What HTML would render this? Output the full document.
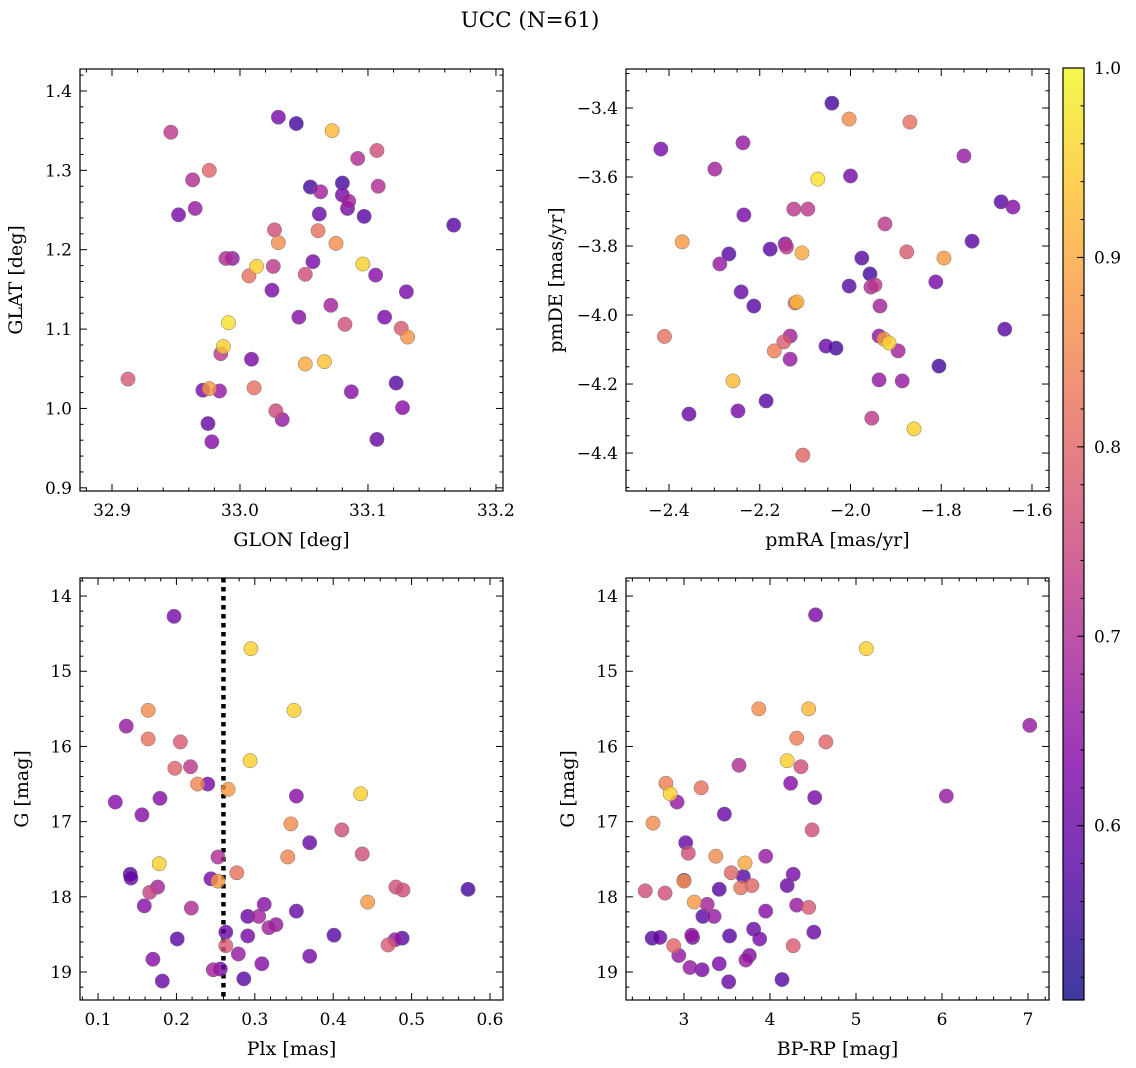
<!DOCTYPE html>
<html><head><meta charset="utf-8"><style>
html,body{margin:0;padding:0;background:#fff;}
svg{display:block;font-family:"DejaVu Serif","Liberation Serif",serif;}
</style></head><body>
<svg id="chart" width="1136" height="1068" viewBox="0 0 1136 1068" xmlns="http://www.w3.org/2000/svg">
<text x="530" y="27" font-size="21.5" text-anchor="middle">UCC (N=61)</text>
</svg>
<script>
// Panel 1: GLON vs GLAT
const p1Glon=[32.9125,32.946,32.952,32.963,32.965,32.976,32.989,32.994,32.991,32.987,32.985,32.971,32.976,32.984,32.975,32.978,33.013,33.007,33.009,33.011,33.030,33.044,33.027,33.030,33.026,33.025,33.028,33.033,33.046,33.051,33.055,33.063,33.062,33.057,33.061,33.051,33.066,33.072,33.080,33.080,33.085,33.084,33.075,33.071,33.082,33.087,33.092,33.097,33.096,33.107,33.108,33.106,33.107,33.113,33.122,33.126,33.131,33.127,33.130,33.167];
const p1Glat=[1.037,1.348,1.244,1.288,1.252,1.300,1.189,1.189,1.108,1.078,1.069,1.023,1.025,1.022,0.981,0.958,1.179,1.167,1.062,1.026,1.367,1.359,1.225,1.209,1.179,1.149,0.997,0.986,1.115,1.056,1.279,1.273,1.245,1.185,1.224,1.169,1.059,1.350,1.284,1.269,1.261,1.252,1.208,1.130,1.106,1.021,1.315,1.242,1.182,1.325,1.280,1.168,0.961,1.115,1.032,1.101,1.090,1.001,1.147,1.231];
const p1Prob=[0.78,0.72,0.62,0.7,0.66,0.8,0.7,0.66,0.97,0.95,0.72,0.62,0.88,0.66,0.6,0.64,0.95,0.82,0.62,0.82,0.62,0.56,0.76,0.86,0.72,0.62,0.75,0.66,0.64,0.9,0.56,0.68,0.6,0.62,0.82,0.76,0.93,0.92,0.56,0.62,0.68,0.62,0.86,0.68,0.76,0.64,0.7,0.58,0.95,0.76,0.7,0.64,0.6,0.62,0.58,0.78,0.87,0.64,0.62,0.58];
// Panel 2: pmRA vs pmDE
const p2PmRA=[-2.418,-2.299,-2.237,-2.041,-2.003,-1.869,-1.750,-1.668,-1.642,-1.732,-1.794,-1.812,-2.072,-2.000,-2.235,-2.125,-2.094,-1.924,-2.371,-2.268,-2.288,-2.177,-2.144,-2.141,-2.107,-1.975,-1.876,-2.241,-2.213,-2.122,-2.118,-1.957,-2.003,-1.955,-1.946,-1.935,-2.410,-2.147,-2.133,-2.054,-2.032,-1.937,-1.926,-1.915,-1.895,-1.660,-2.168,-2.133,-1.805,-2.259,-1.937,-1.886,-2.186,-2.248,-2.356,-1.953,-1.860,-2.105];
const p2PmDE=[-3.519,-3.577,-3.501,-3.386,-3.432,-3.441,-3.539,-3.672,-3.687,-3.786,-3.835,-3.904,-3.606,-3.597,-3.710,-3.693,-3.693,-3.736,-3.788,-3.823,-3.852,-3.809,-3.794,-3.803,-3.820,-3.835,-3.817,-3.933,-3.974,-3.965,-3.962,-3.881,-3.916,-3.919,-3.913,-3.974,-4.062,-4.078,-4.061,-4.090,-4.096,-4.061,-4.070,-4.081,-4.104,-4.041,-4.104,-4.128,-4.148,-4.191,-4.188,-4.191,-4.249,-4.278,-4.287,-4.299,-4.330,-4.406];
const p2Prob=[0.62,0.68,0.66,0.56,0.86,0.82,0.66,0.58,0.64,0.58,0.88,0.62,0.97,0.62,0.62,0.72,0.72,0.72,0.88,0.58,0.66,0.58,0.64,0.72,0.9,0.58,0.78,0.6,0.58,0.8,0.92,0.56,0.58,0.7,0.72,0.68,0.82,0.78,0.68,0.6,0.56,0.66,0.88,0.95,0.68,0.58,0.84,0.66,0.56,0.92,0.66,0.66,0.58,0.62,0.6,0.72,0.95,0.8];
// Panel 3: Plx vs G
const p3Plx=[0.197,0.295,0.164,0.350,0.164,0.205,0.136,0.198,0.218,0.294,0.240,0.227,0.266,0.179,0.353,0.435,0.122,0.156,0.346,0.411,0.370,0.437,0.342,0.253,0.178,0.141,0.142,0.176,0.166,0.244,0.253,0.277,0.159,0.219,0.312,0.291,0.305,0.353,0.444,0.480,0.489,0.572,0.318,0.327,0.263,0.291,0.201,0.401,0.488,0.479,0.263,0.470,0.370,0.279,0.170,0.309,0.247,0.256,0.182,0.286];
const p3G=[14.27,14.70,15.52,15.52,15.90,15.94,15.73,16.29,16.27,16.19,16.50,16.50,16.57,16.69,16.66,16.63,16.74,16.91,17.03,17.11,17.28,17.43,17.47,17.47,17.56,17.70,17.75,17.87,17.94,17.76,17.79,17.68,18.12,18.15,18.10,18.26,18.26,18.19,18.07,17.87,17.91,17.90,18.41,18.37,18.47,18.52,18.56,18.51,18.55,18.57,18.65,18.64,18.79,18.76,18.83,18.89,18.97,18.96,19.12,19.09];
const p3Prob=[0.62,0.95,0.86,0.95,0.82,0.78,0.66,0.8,0.72,0.95,0.62,0.85,0.88,0.64,0.64,0.95,0.64,0.64,0.86,0.76,0.6,0.76,0.85,0.7,0.95,0.58,0.6,0.68,0.74,0.62,0.88,0.82,0.64,0.7,0.64,0.6,0.68,0.6,0.88,0.76,0.76,0.56,0.68,0.66,0.6,0.62,0.58,0.58,0.58,0.66,0.78,0.78,0.62,0.66,0.64,0.64,0.68,0.62,0.6,0.58];
const plxLine=0.26;
// Panel 4: BP-RP vs G
const p4BpRp=[4.53,5.12,3.87,4.45,7.02,4.31,4.65,3.64,4.36,4.20,2.79,2.84,3.20,4.24,4.52,6.05,2.92,3.47,2.64,4.49,3.02,3.95,3.05,3.37,3.71,3.55,3.69,4.27,3.00,3.00,3.41,3.66,3.79,4.20,2.55,2.78,3.12,3.27,4.31,4.45,3.95,3.22,3.35,3.81,3.09,3.53,4.51,2.63,2.72,3.10,3.88,2.88,4.27,2.94,3.76,3.72,3.07,3.41,3.21,4.14,3.52];
const p4G=[14.25,14.70,15.50,15.50,15.72,15.89,15.94,16.25,16.27,16.19,16.49,16.63,16.55,16.49,16.68,16.66,16.74,16.90,17.02,17.11,17.28,17.46,17.42,17.46,17.55,17.68,17.73,17.70,17.78,17.79,17.90,17.88,17.85,17.85,17.92,17.95,18.07,18.10,18.11,18.14,18.19,18.26,18.26,18.43,18.51,18.52,18.47,18.55,18.54,18.54,18.56,18.65,18.65,18.78,18.78,18.84,18.94,18.89,18.97,19.10,19.13];
const p4Prob=[0.62,0.95,0.86,0.92,0.66,0.84,0.8,0.7,0.76,0.95,0.84,0.95,0.82,0.64,0.62,0.66,0.66,0.6,0.86,0.76,0.6,0.66,0.76,0.86,0.9,0.8,0.58,0.62,0.62,0.88,0.58,0.82,0.8,0.6,0.76,0.76,0.88,0.68,0.66,0.78,0.64,0.58,0.66,0.6,0.66,0.58,0.6,0.58,0.6,0.62,0.62,0.8,0.78,0.66,0.64,0.66,0.66,0.62,0.62,0.58,0.6];
const cbTicks=[0.6,0.7,0.8,0.9,1.0];
const vmin=0.508, vmax=1.0;

const NS="http://www.w3.org/2000/svg";
const svg=document.getElementById('chart');
function mk(tag,attrs,parent){const e=document.createElementNS(NS,tag);for(const k in attrs)e.setAttribute(k,attrs[k]);(parent||svg).appendChild(e);return e;}
const stops=[[0,[13,8,135]],[0.125,[76,2,161]],[0.25,[126,3,168]],[0.375,[169,35,149]],[0.5,[204,71,120]],[0.625,[229,107,93]],[0.75,[248,148,65]],[0.875,[253,195,40]],[1,[240,249,33]]];
function plasma(t){t=Math.max(0,Math.min(1,t));for(let i=1;i<stops.length;i++){if(t<=stops[i][0]){const a=stops[i-1],b=stops[i];const f=(t-a[0])/(b[0]-a[0]);const c=a[1].map((v,j)=>Math.round(v+(b[1][j]-v)*f));return `rgb(${c[0]},${c[1]},${c[2]})`;}}return 'rgb(240,249,33)';}
function fmt(v,d){return v.toFixed(d).replace('-','\u2212');}
const TICK_FS=17, LAB_FS=19;

function panel(cfg){
  const g=mk('g',{});
  
  
  const {x0,x1,y0,y1,xmin,xmax,ymin,ymax}=cfg;
  const sx=v=>x0+(v-xmin)/(xmax-xmin)*(x1-x0);
  const sy=cfg.invert? (v=>y0+(v-ymin)/(ymax-ymin)*(y1-y0)) : (v=>y1-(v-ymin)/(ymax-ymin)*(y1-y0));
  const cid='clip-'+cfg.name;
  const cp=mk('clipPath',{id:cid},g);mk('rect',{x:x0,y:y0,width:x1-x0,height:y1-y0},cp);
  const pts=mk('g',{'clip-path':`url(#${cid})`},g);
  
  
  if(cfg.vline!==undefined){
    const l=mk('line',{x1:sx(cfg.vline),x2:sx(cfg.vline),y1:y0,y2:y1,stroke:'#000','stroke-width':4.5,'stroke-dasharray':'4.5,4.5'},pts);
    
    
  }
  const order=cfg.c.map((c,i)=>i).sort((a,b)=>cfg.c[a]-cfg.c[b]);
  order.forEach(i=>{
    const c=mk('circle',{cx:sx(cfg.x[i]),cy:sy(cfg.y[i]),r:7.2,fill:plasma((cfg.c[i]-vmin)/(vmax-vmin)),'fill-opacity':0.8,stroke:'#777','stroke-width':0.5},pts);
    
    
  });
  const fr=mk('rect',{x:x0,y:y0,width:x1-x0,height:y1-y0,fill:'none',stroke:'#000','stroke-width':1.2},g);
  
  
  const xt=mk('g',{},g);
  
  
  for(let v=cfg.xtStart;v<=xmax+1e-9;v+=cfg.xMinor){
    const k=Math.round((v-cfg.xtStart)/cfg.xMinor);const major=k%cfg.xSub===0;const px=sx(v);
    if(px<x0-0.1||px>x1+0.1)continue;
    const L=major?7:3.5;
    mk('line',{x1:px,x2:px,y1:y1,y2:y1-L,stroke:'#000','stroke-width':1},xt);
    mk('line',{x1:px,x2:px,y1:y0,y2:y0+L,stroke:'#000','stroke-width':1},xt);
    if(major){const t=mk('text',{x:px,y:y1+25,'font-size':TICK_FS,'text-anchor':'middle'},xt);t.textContent=fmt(v,cfg.xDec);}
  }
  for(let v=cfg.xtStart-cfg.xMinor;v>=xmin-1e-9;v-=cfg.xMinor){const px=sx(v);mk('line',{x1:px,x2:px,y1:y1,y2:y1-3.5,stroke:'#000'},xt);mk('line',{x1:px,x2:px,y1:y0,y2:y0+3.5,stroke:'#000'},xt);}
  const yt=mk('g',{},g);
  
  
  for(let v=cfg.ytStart;v<=ymax+1e-9;v+=cfg.yMinor){
    const k=Math.round((v-cfg.ytStart)/cfg.yMinor);const major=k%cfg.ySub===0;const py=sy(v);
    if(py<y0-0.1||py>y1+0.1)continue;
    const L=major?7:3.5;
    mk('line',{x1:x0,x2:x0+L,y1:py,y2:py,stroke:'#000','stroke-width':1},yt);
    mk('line',{x1:x1,x2:x1-L,y1:py,y2:py,stroke:'#000','stroke-width':1},yt);
    if(major){const t=mk('text',{x:x0-8,y:py+6,'font-size':TICK_FS,'text-anchor':'end'},yt);t.textContent=fmt(v,cfg.yDec);}
  }
  for(let v=cfg.ytStart-cfg.yMinor;v>=ymin-1e-9;v-=cfg.yMinor){const py=sy(v);mk('line',{x1:x0,x2:x0+3.5,y1:py,y2:py,stroke:'#000'},yt);mk('line',{x1:x1,x2:x1-3.5,y1:py,y2:py,stroke:'#000'},yt);}
  const xl=mk('text',{x:(x0+x1)/2,y:y1+55,'font-size':LAB_FS,'text-anchor':'middle'},g);xl.textContent=cfg.xlabel;
  
  
  const yx=x0-cfg.ylOff,yy=(y0+y1)/2;
  const yl=mk('text',{x:yx,y:yy,'font-size':LAB_FS,'text-anchor':'middle',transform:`rotate(-90 ${yx} ${yy})`},g);yl.textContent=cfg.ylabel;
  
  
}

panel({name:'glon-glat-panel',x0:80,x1:503,y0:69,y1:491,xmin:32.875,xmax:33.2055,ymin:0.896,ymax:1.4277,x:p1Glon,y:p1Glat,c:p1Prob,
  xtStart:32.9,xMinor:0.02,xSub:5,xDec:1,ytStart:0.9,yMinor:0.02,ySub:5,yDec:1,xlabel:'GLON [deg]',ylabel:'GLAT [deg]',ylOff:58});
panel({name:'pm-panel',x0:626,x1:1049,y0:69,y1:491,xmin:-2.4948,xmax:-1.5625,ymin:-4.510,ymax:-3.287,x:p2PmRA,y:p2PmDE,c:p2Prob,
  xtStart:-2.4,xMinor:0.05,xSub:4,xDec:1,ytStart:-4.4,yMinor:0.05,ySub:4,yDec:1,xlabel:'pmRA [mas/yr]',ylabel:'pmDE [mas/yr]',ylOff:64});
panel({name:'plx-g-panel',x0:80,x1:503,y0:578,y1:1000,xmin:0.077,xmax:0.6166,ymin:13.76,ymax:19.372,invert:true,x:p3Plx,y:p3G,c:p3Prob,vline:plxLine,
  xtStart:0.1,xMinor:0.02,xSub:5,xDec:1,ytStart:14,yMinor:0.2,ySub:5,yDec:0,xlabel:'Plx [mas]',ylabel:'G [mag]',ylOff:52});
panel({name:'cmd-panel',x0:626,x1:1049,y0:578,y1:1000,xmin:2.326,xmax:7.244,ymin:13.76,ymax:19.372,invert:true,x:p4BpRp,y:p4G,c:p4Prob,
  xtStart:3,xMinor:0.2,xSub:5,xDec:0,ytStart:14,yMinor:0.2,ySub:5,yDec:0,xlabel:'BP-RP [mag]',ylabel:'G [mag]',ylOff:52});

// colorbar
const cb=mk('g',{});


const defs=mk('defs',{},cb);
const lg=mk('linearGradient',{id:'cbgrad',x1:0,y1:1,x2:0,y2:0},defs);
stops.forEach(s=>mk('stop',{offset:s[0],'stop-color':`rgb(${s[1].join(',')})`},lg));
const cbx0=1063,cbx1=1084,cby0=68,cby1=1000;
const cy=v=>cby1-(v-vmin)/(vmax-vmin)*(cby1-cby0);
mk('rect',{x:cbx0,y:cby0,width:cbx1-cbx0,height:cby1-cby0,fill:'url(#cbgrad)','fill-opacity':0.8},cb);
mk('rect',{x:cbx0,y:cby0,width:cbx1-cbx0,height:cby1-cby0,fill:'none',stroke:'#000','stroke-width':1.2},cb);
for(let v=0.52;v<=1.0001;v+=0.02){const py=cy(v);mk('line',{x1:cbx1,x2:cbx1-3.5,y1:py,y2:py,stroke:'#000'},cb);}
cbTicks.forEach(v=>{const py=cy(v);mk('line',{x1:cbx1,x2:cbx1-7,y1:py,y2:py,stroke:'#000'},cb);
  const t=mk('text',{x:cbx1+10,y:py+6,'font-size':TICK_FS},cb);t.textContent=v.toFixed(1);
  
  });
</script>
</body></html>
